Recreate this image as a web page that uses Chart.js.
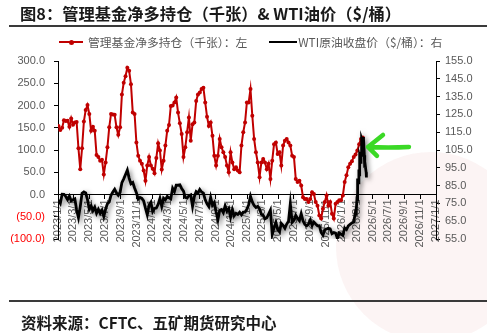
<!DOCTYPE html>
<html>
<head>
<meta charset="utf-8">
<script src="https://cdn.jsdelivr.net/npm/chart.js@4.4.1/dist/chart.umd.min.js"></script>
<style>
  html, body { margin: 0; padding: 0; background: #fff; }
  #wrap { position: relative; width: 487px; height: 333px; overflow: hidden; font-family: "Noto Sans CJK SC", sans-serif; }
  #title { position: absolute; left: 20px; top: 3px; font-size: 16.3px; line-height: 20px; font-weight: bold; color: #1a1a1a; white-space: nowrap; }
  .rule { position: absolute; left: 9px; right: 0; height: 2px; background: #3a3a3a; }
  #legend { position: absolute; left: 59px; top: 34px; font-size: 11.8px; line-height: 16px; color: #595959; white-space: nowrap; display: flex; align-items: center; }
  .key { display: inline-block; position: relative; height: 2px; margin-right: 5px; }
  .key i { position: absolute; left: 50%; top: -1.5px; width: 5px; height: 5px; margin-left: -2.5px; border-radius: 50%; background: #C00000; }
  #source { position: absolute; left: 21px; top: 312px; font-size: 15.5px; line-height: 20px; font-weight: bold; color: #1a1a1a; white-space: nowrap; }
  canvas { position: absolute; left: 0; top: 0; }
</style>
</head>
<body>
<div id="wrap">
  <canvas id="chart" width="487" height="333"></canvas>
  <div id="title">图8：管理基金净多持仓（千张）&amp; WTI油价（$/桶）</div>
  <div class="rule" style="top:25px"></div>
  <div id="legend">
    <span class="key" style="width:24px;background:#C00000"><i></i></span><span>管理基金净多持仓（千张）：左</span>
    <span class="key" style="width:28px;background:#000;margin-left:22px;margin-right:1px"></span><span>WTI原油收盘价（$/桶）：右</span>
  </div>
  <div class="rule" style="top:300px"></div>
  <div id="source">资料来源：CFTC、五矿期货研究中心</div>
</div>
<script>
// x axis labels, every two months
const tickLabels = [
  "2023/1/1", "2023/3/1", "2023/5/1", "2023/7/1", "2023/9/1", "2023/11/1",
  "2024/1/1", "2024/3/1", "2024/5/1", "2024/7/1", "2024/9/1", "2024/11/1",
  "2025/1/1", "2025/3/1", "2025/5/1", "2025/7/1", "2025/9/1", "2025/11/1",
  "2026/1/1", "2026/3/1", "2026/5/1", "2026/7/1", "2026/9/1", "2026/11/1",
  "2027/1/1",
];

// Managed money net long (thousand contracts), weekly from 2023/1/3
const fundStart = "2023/1/3";
const fundNetLong = [
  154, 145, 150, 167, 165, 166, 152, 171, 157, 162,
  163, 104, 57, 104, 164, 190, 201, 181, 143, 152,
  143, 89, 84, 76, 78, 45, 72, 106, 151, 181,
  180, 179, 151, 134, 151, 225, 251, 266, 285, 278,
  248, 184, 181, 117, 87, 76, 69, 54, 31, 65,
  84, 65, 58, 48, 82, 115, 99, 56, 76, 110,
  143, 156, 199, 200, 207, 218, 184, 160, 136, 84,
  106, 140, 173, 121, 158, 162, 210, 225, 229, 237,
  240, 207, 175, 154, 162, 132, 87, 65, 87, 125,
  106, 95, 84, 65, 50, 95, 72, 57, 61, 54,
  50, 110, 140, 162, 207, 207, 237, 177, 125, 95,
  72, 39, 72, 80, 72, 57, 69, 35, 76, 113,
  117, 91, 95, 65, 110, 121, 125, 117, 110, 87,
  84, 35, 28, 31, 20, -6, -10, -10, -17, -10,
  5, 1, -17, -25, -47, -54, -32, -17, -2, -25,
  -17, -43, -54, -21, -17, -13, -13, -2, 28, 43,
  61, 69, 75, 84, 90, 99, 113, 125, 128,
];

// WTI close ($/bbl), weekly from 2023/1/3
const wtiStart = "2023/1/3";
const wtiWeekly = [
  76.9, 75.1, 80.2, 80.1, 78.9, 77.1, 79.1, 76.4, 77.1, 77.6,
  71.3, 67.0, 73.2, 80.7, 81.5, 80.9, 77.1, 71.7, 73.7, 70.9,
  72.9, 69.5, 71.7, 69.4, 71.2, 67.7, 71.8, 74.8, 75.8, 79.6,
  81.4, 82.9, 80.9, 79.6, 81.2, 86.7, 88.8, 91.2, 93.7, 89.2,
  86.0, 86.7, 83.7, 81.0, 77.4, 78.3, 77.8, 76.4, 72.3, 68.6,
  74.0, 75.6, 70.4, 72.2, 72.4, 74.4, 77.8, 73.3, 77.9, 77.0,
  78.9, 78.2, 77.6, 83.5, 81.6, 85.2, 85.2, 85.4, 83.4, 81.9,
  78.4, 78.0, 79.3, 79.8, 73.3, 78.9, 81.6, 80.8, 82.8, 81.4,
  80.8, 77.0, 74.7, 73.2, 78.4, 74.0, 75.5, 70.3, 65.8, 71.2,
  71.6, 69.8, 73.6, 70.6, 72.1, 67.2, 71.5, 68.1, 69.4, 68.8,
  70.0, 68.6, 70.1, 70.1, 71.7, 74.3, 79.0, 75.8, 73.8, 72.7,
  73.3, 71.9, 68.9, 68.3, 66.3, 66.9, 69.0, 71.2, 57.6, 61.3,
  64.3, 60.4, 59.1, 63.7, 62.6, 61.0, 63.4, 65.0, 74.8, 64.4,
  65.5, 68.3, 66.5, 65.3, 69.2, 65.2, 63.2, 62.4, 63.3, 65.6,
  62.6, 64.5, 63.4, 62.4, 62.5, 58.7, 57.2, 60.2, 60.6, 61.0,
  60.7, 58.0, 58.6, 58.3, 55.3, 58.4, 57.9, 57.1, 61.2, 60.3,
  62.4, 63.2, 64.0, 64.5, 70.5,
];

// WTI daily closes through the 2026 spike
const wtiLateDates = [
  "2026/2/25", "2026/2/26", "2026/2/27", "2026/3/2", "2026/3/3", "2026/3/4",
  "2026/3/5", "2026/3/6", "2026/3/9", "2026/3/10", "2026/3/11", "2026/3/12",
  "2026/3/13", "2026/3/16", "2026/3/17", "2026/3/18", "2026/3/19", "2026/3/20",
  "2026/3/23", "2026/3/24", "2026/3/25", "2026/3/26", "2026/3/27", "2026/3/30",
  "2026/3/31", "2026/4/1", "2026/4/2", "2026/4/6", "2026/4/7",
];
const wtiLateClose = [
  72.0, 68.8, 71.5, 79.0, 76.0, 84.5,
  89.0, 86.5, 94.0, 91.0, 98.5, 96.0,
  100.5, 98.0, 104.0, 102.0, 108.0, 111.5,
  110.0, 112.0, 109.0, 111.0, 112.3, 102.0,
  99.5, 95.0, 97.0, 92.5, 89.6,
];

// where the green arrow points: [date, left-axis value]
const arrowAt = ["2026/4/13", 107];

const DAY = 86400000;
const dayOf = (s) => {
  const [y, m, d] = s.split("/").map(Number);
  return (Date.UTC(y, m - 1, d) - Date.UTC(2023, 0, 1)) / DAY;
};

const weekly = (start, values) =>
  values.map((v, i) => ({ x: dayOf(start) + 7 * i, y: v }));

const fundPoints = weekly(fundStart, fundNetLong);
const wtiPoints = weekly(wtiStart, wtiWeekly).concat(
  wtiLateDates.map((d, i) => ({ x: dayOf(d), y: wtiLateClose[i] }))
);

const tickFont = { family: "Liberation Sans", size: 11 };

// faint round logo stamp behind the plot, lower right
const stamp = {
  id: "stamp",
  beforeDraw(chart) {
    const ctx = chart.ctx;
    ctx.save();
    ctx.fillStyle = "rgba(200,40,40,0.05)";
    ctx.beginPath();
    ctx.arc(chart.chartArea.right - 5, chart.chartArea.bottom + 8, 95, 0, Math.PI * 2);
    ctx.fill();
    ctx.restore();
  },
};

// soft grey shadow under the WTI line
const lineShadow = {
  id: "lineShadow",
  beforeDatasetDraw(chart, args) {
    if (args.index !== 1) return;
    const ctx = chart.ctx;
    ctx.save();
    ctx.shadowColor = "rgba(0,0,0,0.5)";
    ctx.shadowBlur = 5;
    ctx.shadowOffsetX = 2;
    ctx.shadowOffsetY = 2;
  },
  afterDatasetDraw(chart, args) {
    if (args.index === 1) chart.ctx.restore();
  },
};

// hand-drawn green arrow next to the latest reading
const arrowNote = {
  id: "arrowNote",
  afterDraw(chart) {
    const { ctx, scales } = chart;
    const x = scales.x.getPixelForValue(dayOf(arrowAt[0]));
    const y = scales.y.getPixelForValue(arrowAt[1]);
    ctx.save();
    ctx.strokeStyle = "#3bd926";
    ctx.lineWidth = 4.5;
    ctx.lineCap = "round";
    ctx.lineJoin = "round";
    ctx.beginPath();
    ctx.moveTo(x + 15, y - 12);
    ctx.lineTo(x, y);
    ctx.lineTo(x + 9, y + 9);
    ctx.moveTo(x, y);
    ctx.quadraticCurveTo(x + 20, y + 1, x + 41, y);
    ctx.stroke();
    ctx.restore();
  },
};

const axisGrid = { drawOnChartArea: false, tickLength: 4, color: "#000" };

const chart = new Chart(document.getElementById("chart"), {
  type: "line",
  data: {
    datasets: [
      {
        label: "管理基金净多持仓（千张）：左",
        data: fundPoints,
        yAxisID: "y",
        borderColor: "#C00000",
        backgroundColor: "#C00000",
        borderWidth: 2,
        pointRadius: 2,
        pointBorderWidth: 0,
        pointBackgroundColor: "#C00000",
        order: 2,
      },
      {
        label: "WTI原油收盘价（$/桶）：右",
        data: wtiPoints,
        yAxisID: "y1",
        borderColor: "#000",
        borderWidth: 2.8,
        pointRadius: 0,
        order: 1,
      },
    ],
  },
  options: {
    responsive: false,
    animation: false,
    layout: { padding: { top: 61, bottom: 94, left: 0, right: 0 } },
    plugins: {
      legend: { display: false },
      tooltip: { enabled: false },
    },
    scales: {
      x: {
        type: "linear",
        position: { y: 0 },
        min: 0,
        max: dayOf("2027/1/1"),
        afterBuildTicks: (s) => {
          s.ticks = tickLabels.map((t) => ({ value: dayOf(t) }));
        },
        ticks: {
          autoSkip: false,
          minRotation: 90,
          maxRotation: 90,
          padding: 1,
          color: "#595959",
          font: tickFont,
          callback: (v, i) => tickLabels[i],
        },
        grid: axisGrid,
        border: { color: "#000" },
      },
      y: {
        position: "left",
        min: -100,
        max: 300,
        afterFit: (s) => { s.width = 58; },
        ticks: {
          stepSize: 50,
          padding: 9,
          font: tickFont,
          color: (c) => (c.tick.value < 0 ? "#FF0000" : "#595959"),
          callback: (v) => (v < 0 ? "(" + (-v).toFixed(1) + ")" : v.toFixed(1)),
        },
        grid: axisGrid,
        border: { color: "#000" },
      },
      y1: {
        position: "right",
        min: 55,
        max: 155,
        afterFit: (s) => { s.width = 51; },
        ticks: {
          stepSize: 10,
          padding: 5,
          font: tickFont,
          color: "#595959",
          callback: (v) => v.toFixed(1),
        },
        grid: axisGrid,
        border: { color: "#000" },
      },
    },
  },
  plugins: [stamp, lineShadow, arrowNote],
});
</script>
</body>
</html>
